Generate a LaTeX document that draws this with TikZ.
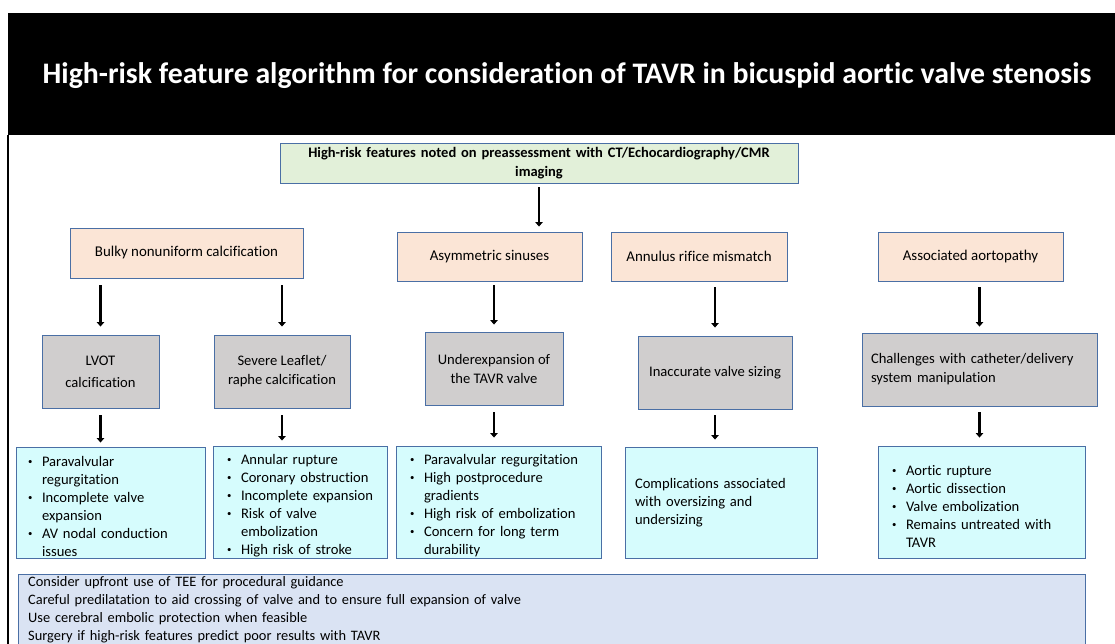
\documentclass[tikz,border=0pt]{standalone}
\usepackage{fontspec}
\usepackage{graphicx}
\setmainfont[Ligatures=NoCommon]{Carlito}
\usetikzlibrary{arrows.meta,calc}
\definecolor{bordc}{HTML}{4A6FA5}
\definecolor{greenf}{HTML}{E2F0D9}
\definecolor{peachf}{HTML}{FBE5D6}
\definecolor{grayf}{HTML}{D0CECE}
\definecolor{cyanf}{HTML}{D6FCFD}
\definecolor{bluef}{HTML}{DAE3F3}
\newcommand{\nl}{\hfil\break}
\newcommand{\bl}[1]{\par\noindent\hangindent=15pt\hangafter=1\makebox[15pt][l]{\hspace{1pt}\raisebox{2pt}{\scalebox{0.6}{\textbullet}}}#1\par}
\begin{document}
\begin{tikzpicture}[x=1pt,y=-1pt,
  base/.style={draw=bordc, line width=0.9pt, inner sep=0pt, font=\fontsize{14.6}{18}\selectfont},
  topbox/.style={base, fill=greenf, align=center, font=\bfseries\fontsize{14.5}{19}\selectfont},
  peachbox/.style={base, fill=peachf, align=center, font=\fontsize{14.9}{18}\selectfont},
  graybox/.style={base, fill=grayf, align=center, font=\fontsize{14.6}{19}\selectfont},
  cyanbox/.style={base, fill=cyanf, align=left},
  arr/.style={line width=2.6pt, -{Triangle[length=4.5pt,width=7.5pt]}},
]
\useasboundingbox (0,0) rectangle (1115,644);
\clip (0,0) rectangle (1115,644);
\fill[white] (0,0) rectangle (1115,644);
% title bar
\fill[black] (8,13) rectangle (1115,135);
\node[text=white, font=\bfseries\fontsize{29.8}{34}\selectfont] (title) at (567,76) {High-risk feature algorithm for consideration of TAVR in bicuspid aortic valve stenosis};
\draw[line width=2pt] (8,135) -- (8,644);

% top
\node[topbox, minimum width=518pt, minimum height=40pt, text width=508pt] (top) at (539,163) {High-risk features noted on preassessment with CT/Echocardiography/CMR\\imaging};

% level 1
\node[peachbox, minimum width=233pt, minimum height=50pt] (bulky) at (186.5,253) {Bulky nonuniform calcification};
\node[peachbox, minimum width=185pt, minimum height=49pt] (asym) at (489.5,256.5) {Asymmetric sinuses};
\node[peachbox, minimum width=176pt, minimum height=49pt] (annul) at (699,256.5) {Annulus rifice mismatch};
\node[peachbox, minimum width=185pt, minimum height=49pt] (assoc) at (970.5,256.5) {Associated aortopathy};

% level 2
\node[graybox, minimum width=117pt, minimum height=73pt] (lvot) at (100.5,371.5) {LVOT\\[3pt]calcification};
\node[graybox, minimum width=136pt, minimum height=73pt] (severe) at (282,371.5) {Severe Leaflet/\\raphe calcification};
\node[graybox, minimum width=138pt, minimum height=73pt] (under) at (494,368.5) {Underexpansion of\\the TAVR valve};
\node[graybox, minimum width=154pt, minimum height=73pt] (inacc) at (715,372.5) {Inaccurate valve sizing};
\node[graybox, align=left, minimum width=235pt, minimum height=73pt, text width=217pt] (chall) at (979.5,369.5) {Challenges with catheter/delivery\\system manipulation};

% level 3
\node[cyanbox, minimum width=189pt, minimum height=111pt, text width=167pt] (c1) at (110.5,502.5) {\bl{Paravalvular\nl regurgitation}\bl{Incomplete valve\nl expansion}\bl{AV nodal conduction\nl issues}};
\node[cyanbox, minimum width=174pt, minimum height=112pt, text width=148pt] (c2) at (300,502) {\bl{Annular rupture}\bl{Coronary obstruction}\bl{Incomplete expansion}\bl{Risk of valve\nl embolization}\bl{High risk of stroke}};
\node[cyanbox, minimum width=205pt, minimum height=112pt, text width=179pt] (c3) at (498.5,502) {\bl{Paravalvular regurgitation}\bl{High postprocedure\nl gradients}\bl{High risk of embolization}\bl{Concern for long term\nl durability}};
\node[cyanbox, minimum width=192pt, minimum height=111pt, text width=172pt] (c4) at (721,502.5) {Complications associated\\with oversizing and\\undersizing};
\node[cyanbox, minimum width=207pt, minimum height=112pt, text width=181pt] (c5) at (981.5,502) {\bl{Aortic rupture}\bl{Aortic dissection}\bl{Valve embolization}\bl{Remains untreated with\nl TAVR}};

% bottom
\draw[draw=bordc, line width=0.9pt, fill=bluef] (18,574) rectangle (1085,670);
\node[anchor=north west, inner sep=0pt, align=left, text width=1040pt, font=\fontsize{14.4}{18}\selectfont] (tips) at (28,576) {Consider upfront use of TEE for procedural guidance\\Careful predilatation to aid crossing of valve and to ensure full expansion of valve\\Use cerebral embolic protection when feasible\\Surgery if high-risk features predict poor results with TAVR};

% arrows
\draw[arr, shorten <=4pt, shorten >=5pt] (top.south) -- (top.south |- asym.north);
\draw[arr, shorten <=7pt, shorten >=8pt] (bulky.south -| lvot.north) -- (lvot.north);
\draw[arr, shorten <=7pt, shorten >=8pt] (bulky.south -| severe.north) -- (severe.north);
\draw[arr, shorten <=4pt, shorten >=7pt] (asym.south -| under.north) -- (under.north);
\draw[arr, shorten <=6pt, shorten >=8pt] (annul.south -| inacc.north) -- (inacc.north);
\draw[arr, shorten <=6pt, shorten >=6pt] (assoc.south -| chall.north) -- (chall.north);
\draw[arr, shorten <=7pt, shorten >=4pt] (lvot.south) -- (lvot.south |- c1.north);
\draw[arr, shorten <=7pt, shorten >=5pt] (severe.south) -- (severe.south |- c2.north);
\draw[arr, shorten <=7pt, shorten >=8pt] (under.south) -- (under.south |- c3.north);
\draw[arr, shorten <=6pt, shorten >=7pt] (inacc.south) -- (inacc.south |- c4.north);
\draw[arr, shorten <=6pt, shorten >=8pt] (chall.south) -- (chall.south |- c5.north);
\end{tikzpicture}
\end{document}
